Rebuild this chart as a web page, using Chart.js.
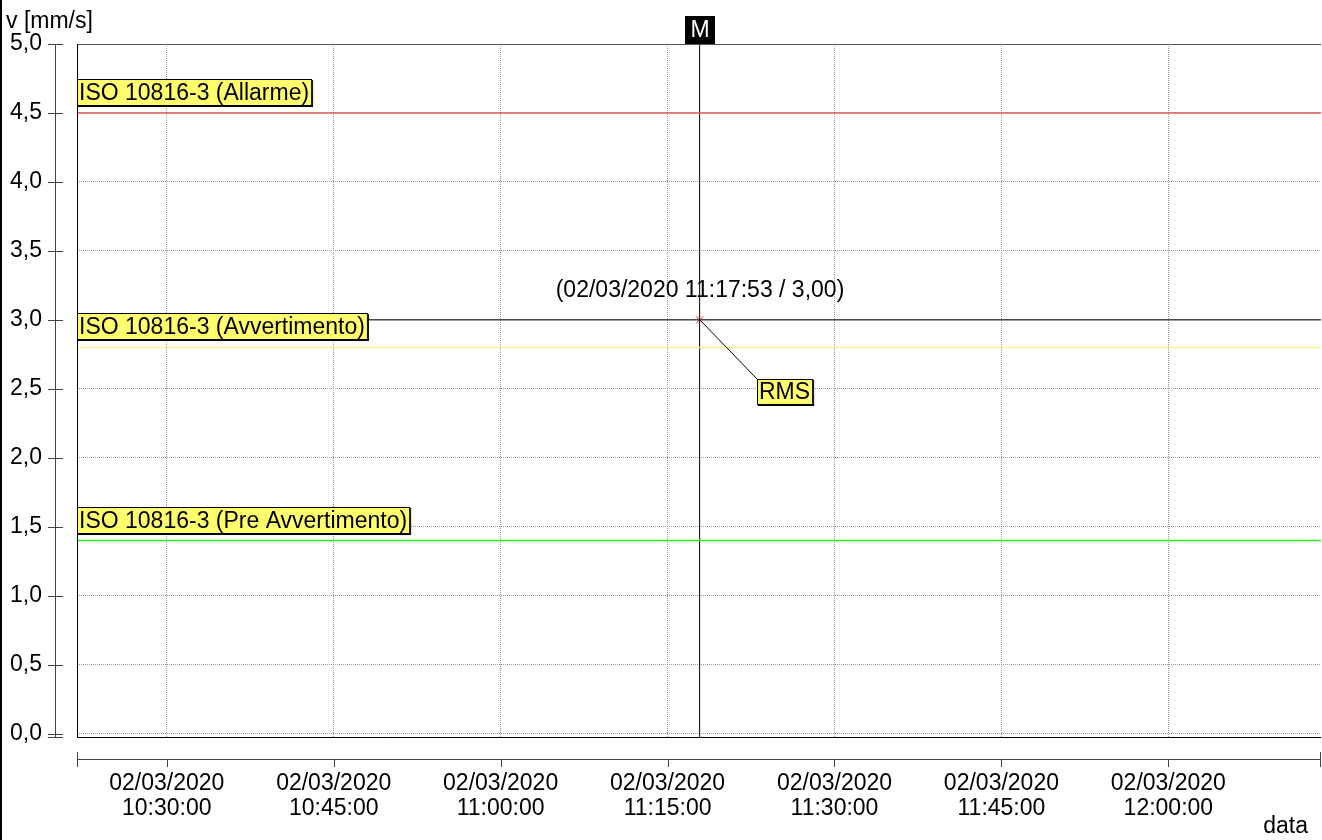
<!DOCTYPE html>
<html>
<head>
<meta charset="utf-8">
<script src="https://cdn.jsdelivr.net/npm/chart.js@4.4.1/dist/chart.umd.min.js"></script>
<style>
  html, body { margin: 0; padding: 0; background: #fff; }
  #wrap { width: 1322px; height: 840px; }
</style>
</head>
<body>
<div id="wrap"><canvas id="chart" width="1322" height="840"></canvas></div>
<script>
// data
const dateLabel = '02/03/2020';
const tickTimes = ['10:30:00', '10:45:00', '11:00:00', '11:15:00', '11:30:00', '11:45:00', '12:00:00'];
const yTicks = [0, 0.5, 1, 1.5, 2, 2.5, 3, 3.5, 4, 4.5, 5];
const xRange = ['10:21:56', '12:13:43'];
const yRange = [-0.024, 5];

const thresholdNames = ['ISO 10816-3 (Allarme)', 'ISO 10816-3 (Avvertimento)', 'ISO 10816-3 (Pre Avvertimento)'];
const thresholdValues = [4.5, 2.8, 1.4];

const rmsName = 'RMS';
const rmsTimes = ['11:17:53'];
const rmsValues = [3.00];

const thresholdColors = ['rgb(232,90,90)', 'rgb(245,245,140)', 'rgb(40,235,40)'];
const FONT = "'Liberation Sans', Arial, sans-serif";
const FS = 23;

function toSec(t) {
  const p = t.split(':').map(Number);
  return p[0] * 3600 + p[1] * 60 + p[2];
}
function fmtTime(sec) {
  const h = Math.floor(sec / 3600), m = Math.floor(sec / 60) % 60, s = sec % 60;
  return [h, m, s].map(n => String(n).padStart(2, '0')).join(':');
}
function fmtNum(v, d) {
  return v.toFixed(d).replace('.', ',');
}

const xMin = toSec(xRange[0]);
const xMax = toSec(xRange[1]);
const markX = toSec(rmsTimes[0]);
const markY = rmsValues[0];

const datasets = thresholdNames.map((name, i) => ({
  label: name,
  data: [{x: xMin, y: thresholdValues[i]}, {x: xMax, y: thresholdValues[i]}],
  borderColor: thresholdColors[i],
  borderWidth: 1.5,
  pointRadius: 0
}));
// marker crosshair
datasets.push({
  label: 'cursorH',
  data: [{x: xMin, y: markY}, {x: xMax, y: markY}],
  borderColor: '#000', borderWidth: 1, pointRadius: 0
});
datasets.push({
  label: 'cursorV',
  data: [{x: markX, y: yRange[0]}, {x: markX, y: yRange[1]}],
  borderColor: '#000', borderWidth: 1, pointRadius: 0
});
datasets.push({
  label: rmsName,
  data: rmsTimes.map((t, i) => ({x: toSec(t), y: rmsValues[i]})),
  showLine: false,
  pointStyle: 'crossRot',
  pointRadius: 5,
  borderColor: 'rgb(220,30,30)',
  borderWidth: 1
});

function labelBox(ctx, text, x, y, h) {
  ctx.font = FS + 'px ' + FONT;
  const w = ctx.measureText(text).width + 5;
  ctx.fillStyle = '#000';
  ctx.fillRect(x + 1, y + 1, w, h);
  ctx.fillStyle = 'rgb(255,255,110)';
  ctx.fillRect(x, y, w, h);
  ctx.strokeStyle = '#000';
  ctx.lineWidth = 1;
  ctx.strokeRect(x + 0.5, y + 0.5, w - 1, h - 1);
  ctx.fillStyle = '#000';
  ctx.textAlign = 'left';
  ctx.textBaseline = 'middle';
  ctx.fillText(text, x + 2, y + h / 2 + 1);
  return w;
}

const extras = {
  id: 'extras',
  afterDraw(chart) {
    const ctx = chart.ctx;
    const a = chart.chartArea;
    const xs = chart.scales.x, ys = chart.scales.y;
    ctx.save();

    // plot frame
    ctx.lineWidth = 1;
    ctx.strokeStyle = '#555';
    ctx.beginPath(); ctx.moveTo(a.left, a.top + 0.5); ctx.lineTo(a.right, a.top + 0.5); ctx.stroke();
    ctx.strokeStyle = '#000';
    ctx.beginPath();
    ctx.moveTo(a.left + 0.5, a.top); ctx.lineTo(a.left + 0.5, a.bottom + 0.5);
    ctx.lineTo(a.right, a.bottom + 0.5);
    ctx.stroke();

    // detached y axis
    ctx.strokeStyle = '#444';
    const yx = 55.5;
    ctx.beginPath(); ctx.moveTo(yx, a.top); ctx.lineTo(yx, a.bottom); ctx.stroke();
    yTicks.forEach(v => {
      const py = Math.round(ys.getPixelForValue(v)) + 0.5;
      ctx.beginPath(); ctx.moveTo(48, py); ctx.lineTo(63, py); ctx.stroke();
    });
    ctx.beginPath(); ctx.moveTo(48, a.bottom + 0.5); ctx.lineTo(63, a.bottom + 0.5); ctx.stroke();

    // detached x axis
    const xy = 759.5;
    ctx.beginPath(); ctx.moveTo(a.left, xy); ctx.lineTo(a.right, xy); ctx.stroke();
    [a.left + 0.5, a.right - 0.5].forEach(px => {
      ctx.beginPath(); ctx.moveTo(px, 752); ctx.lineTo(px, 767); ctx.stroke();
    });
    tickTimes.forEach(t => {
      const px = Math.round(xs.getPixelForValue(toSec(t))) + 0.5;
      ctx.beginPath(); ctx.moveTo(px, xy); ctx.lineTo(px, 767); ctx.stroke();
    });

    // threshold labels
    thresholdNames.forEach((name, i) => {
      const py = ys.getPixelForValue(thresholdValues[i]);
      labelBox(ctx, name, a.left, Math.round(py) - 34, 27);
    });

    // marker
    const mx = Math.round(xs.getPixelForValue(markX));
    const my = Math.round(ys.getPixelForValue(markY));
    ctx.fillStyle = '#000';
    ctx.fillRect(mx - 15, a.top - 28, 30, 28);
    ctx.fillStyle = '#fff';
    ctx.font = FS + 'px ' + FONT;
    ctx.textAlign = 'center';
    ctx.textBaseline = 'middle';
    ctx.fillText('M', mx, a.top - 13);

    ctx.fillStyle = '#000';
    ctx.fillText('(' + dateLabel + ' ' + rmsTimes[0] + ' / ' + fmtNum(markY, 2) + ')', mx, my - 29);

    // RMS callout
    const bx = mx + 57, by = my + 59;
    ctx.strokeStyle = '#000';
    ctx.beginPath(); ctx.moveTo(mx, my); ctx.lineTo(bx, by); ctx.stroke();
    labelBox(ctx, rmsName, bx, by, 26);

    // axis titles
    ctx.fillStyle = '#000';
    ctx.font = FS + 'px ' + FONT;
    ctx.textAlign = 'left';
    ctx.textBaseline = 'middle';
    ctx.fillText('v [mm/s]', 6, 22);
    ctx.textAlign = 'right';
    ctx.fillText('data', 1308, 827);

    // outer left border
    ctx.strokeStyle = '#000';
    ctx.lineWidth = 2;
    ctx.beginPath(); ctx.moveTo(1, 0); ctx.lineTo(1, 840); ctx.stroke();
    ctx.restore();
  }
};

new Chart(document.getElementById('chart'), {
  type: 'line',
  data: {datasets: datasets},
  plugins: [extras],
  options: {
    responsive: false,
    animation: false,
    devicePixelRatio: 1,
    layout: {autoPadding: false, padding: {top: 44, right: 1, left: 0, bottom: 0}},
    plugins: {legend: {display: false}, tooltip: {enabled: false}},
    scales: {
      x: {
        type: 'linear',
        min: xMin,
        max: xMax,
        afterBuildTicks: s => { s.ticks = tickTimes.map(t => ({value: toSec(t)})); },
        afterFit: s => { s.height = 103; s.paddingLeft = 0; s.paddingRight = 0; },
        ticks: {
          callback: v => [dateLabel, fmtTime(v)],
          font: {family: FONT, size: FS, lineHeight: 1.1},
          color: '#000',
          padding: 34,
          maxRotation: 0,
          autoSkip: false
        },
        grid: {color: '#999', drawTicks: false, lineWidth: 1},
        border: {display: false, dash: [1, 1]}
      },
      y: {
        min: yRange[0],
        max: yRange[1],
        afterBuildTicks: s => { s.ticks = yTicks.map(v => ({value: v})); },
        afterFit: s => { s.width = 77; s.paddingTop = 0; s.paddingBottom = 0; },
        ticks: {
          callback: v => fmtNum(v, 1),
          font: {family: FONT, size: FS},
          color: '#000',
          padding: 35
        },
        grid: {color: '#999', drawTicks: false, lineWidth: 1},
        border: {display: false, dash: [1, 1]}
      }
    }
  }
});
</script>
</body>
</html>
